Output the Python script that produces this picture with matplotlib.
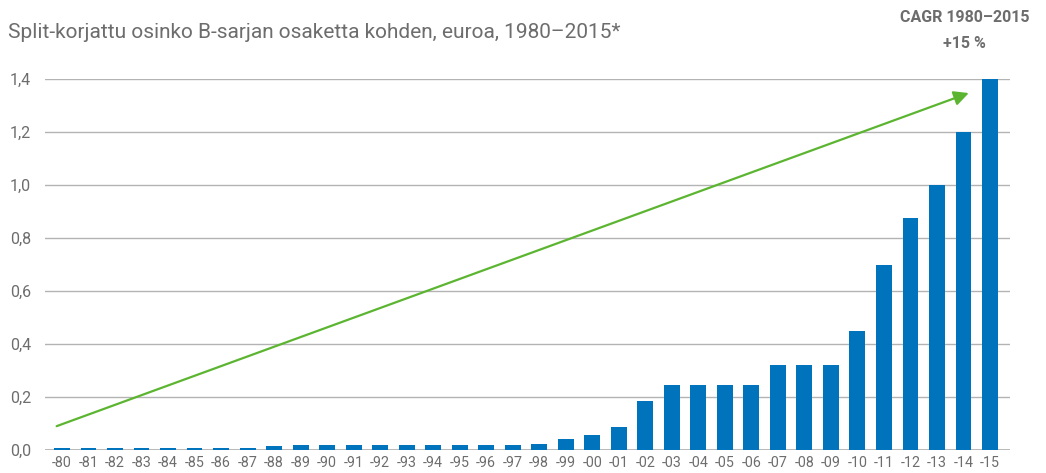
import numpy as np
import matplotlib.pyplot as plt

plt.rcParams['font.family'] = ['Roboto', 'DejaVu Sans']

# split-adjusted dividend per B share, EUR
years = ['-80', '-81', '-82', '-83', '-84', '-85', '-86', '-87', '-88', '-89',
         '-90', '-91', '-92', '-93', '-94', '-95', '-96', '-97', '-98', '-99',
         '-00', '-01', '-02', '-03', '-04', '-05', '-06', '-07', '-08', '-09',
         '-10', '-11', '-12', '-13', '-14', '-15']
dividend = [0.008, 0.008, 0.008, 0.008, 0.008, 0.008, 0.008, 0.008, 0.015, 0.019,
            0.019, 0.019, 0.019, 0.019, 0.019, 0.019, 0.019, 0.019, 0.022, 0.04,
            0.057, 0.087, 0.185, 0.245, 0.245, 0.245, 0.245, 0.32, 0.32, 0.32,
            0.45, 0.70, 0.875, 1.0, 1.2, 1.4]
yticks = [0.0, 0.2, 0.4, 0.6, 0.8, 1.0, 1.2, 1.4]

grey = '#6d6d6d'
blue = '#0073bd'
green = '#5cb531'

fig = plt.figure(figsize=(10.46, 4.73), dpi=100)
ax = fig.add_axes([0.043, 0.0486, 0.923, 0.7844])

x = np.arange(len(years))
ax.bar(x, dividend, width=0.6, color=blue, zorder=3, clip_on=False)

for v in yticks:
    ax.axhline(v, color='#b3b3b3', lw=1.3 if v == 0 else 1.0, zorder=1)

# trend arrow across the period
ax.annotate('', xy=(34.2, 1.347), xytext=(-0.2, 0.09),
            arrowprops=dict(arrowstyle='-|>', color=green, lw=1.6,
                            mutation_scale=22, shrinkA=0, shrinkB=0),
            zorder=4)

ax.set_xlim(-0.64, 35.77)
ax.set_ylim(0, 1.4)
ax.set_xticks(x)
ax.set_xticklabels(years, fontsize=10.3, color=grey)
ax.set_yticks(yticks)
ax.set_yticklabels([f'{v:.1f}'.replace('.', ',') for v in yticks],
                   fontsize=11.5, color=grey)
ax.tick_params(length=0)
ax.tick_params(axis='x', pad=4)
ax.tick_params(axis='y', pad=10)
for s in ax.spines.values():
    s.set_visible(False)

fig.text(0.008, 0.932, 'Split-korjattu osinko B-sarjan osaketta kohden, euroa, 1980\u20132015*',
         fontsize=15, color=grey, ha='left', va='center')
fig.text(0.922, 0.962, 'CAGR 1980\u20132015', fontsize=11.5, color=grey,
         fontweight='bold', ha='center', va='center')
fig.text(0.922, 0.908, '+15 %', fontsize=11.5, color=grey,
         fontweight='bold', ha='center', va='center')

plt.savefig('out.png', dpi=100)
